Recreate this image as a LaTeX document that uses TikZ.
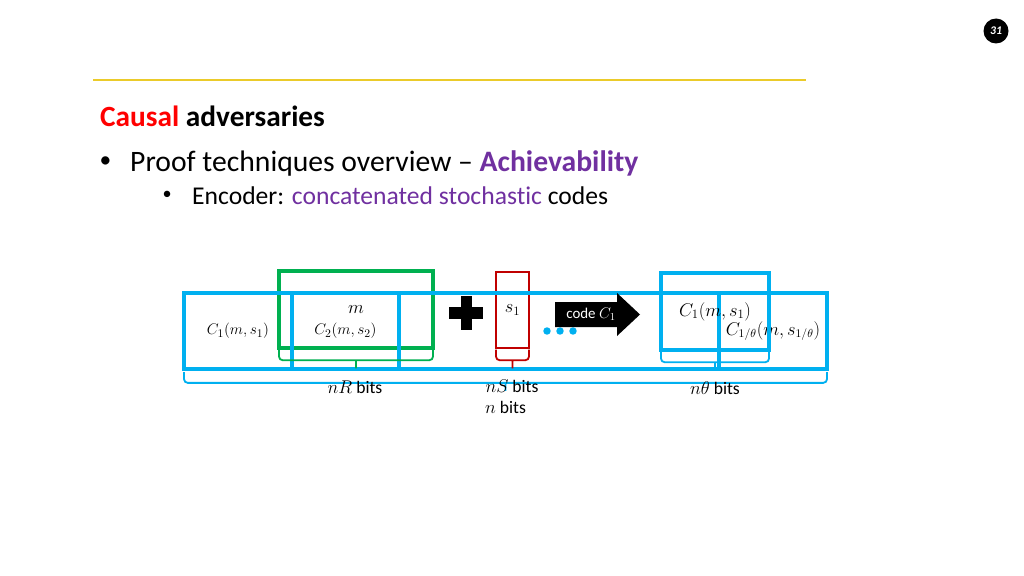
\documentclass[tikz,border=0pt]{standalone}
\usepackage{fontspec}
\setmainfont{Carlito}[Ligatures=NoCommon]
\usetikzlibrary{positioning,calc}

\definecolor{cblue}{HTML}{00B0F0}
\definecolor{cgreen}{HTML}{00B050}
\definecolor{cred}{HTML}{C00000}
\definecolor{cpurple}{HTML}{7030A0}
\definecolor{cgold}{HTML}{EBCB2A}

\newcommand{\pxscl}{0.9375}
\newcommand{\px}[1]{(#1*\pxscl)*1pt}
\newcommand{\fs}[1]{\fontsize{#1}{#1}\selectfont}
\newcommand{\bb}{\node[draw=cblue, line width=2.9pt, inner sep=0pt, outer sep=0pt]}
\newcommand{\gb}{\node[draw=cgreen, line width=2.9pt, inner sep=0pt, outer sep=0pt]}
\newcommand{\rb}{\node[draw=cred, line width=2.4pt, inner sep=0pt, outer sep=0pt]}
\newcommand{\lbl}{\node[inner sep=0pt, font=\fs{16.5}]}
\newcommand{\brk}[3]{\draw[#1, brk] let \p1=(#2), \p2=(#3) in
    (\p1) -- (\x1,\y1-10pt) -- (\x2,\y1-10pt) -- (\p2)
    ({(\x1+\x2)/2},\y1-10pt) -- ({(\x1+\x2)/2},\y1-17.5pt);}

\tikzset{
    sz/.style 2 args={minimum width=\px{#1}, minimum height=\px{#2}},
    brk/.style={line width=1.7pt, rounded corners=3.5pt}
}

\begin{document}
\begin{tikzpicture}[x=0.9375pt, y=-0.9375pt]
            \useasboundingbox[fill=white] (0,0) rectangle (1024,576);

            \node[circle, fill=black, minimum size=\px{25}, inner sep=0pt, text=white,
                font=\fs{11}\bfseries\itshape] (pnum) at (996,31) {31};
            \coordinate (ruleL) at (93,80);
            \coordinate (ruleR) at (806,80);
            \draw[cgold, line width=1.1pt] (ruleL) -- (ruleR);

            \node[anchor=base west, inner sep=0pt, font=\fs{27.5}\bfseries] (title) at (100,127)
                {\textcolor{red}{Causal} adversaries};
            \node[anchor=base west, inner sep=0pt, font=\fs{22}] (dot1) at (99.5,168) {•};
            \node[anchor=base west, inner sep=0pt, font=\fs{27.8}] (item1) at (130,171)
                {Proof techniques overview – \textcolor{cpurple}{\bfseries Achievability}};
            \node[anchor=base west, inner sep=0pt, font=\fs{17}] (dot2) at (162.5,199) {•};
            \node[anchor=base west, inner sep=0pt, font=\fs{24}] (item2) at (192,204)
                {Encoder: \textcolor{cpurple}{concatenated stochastic} codes};

            \gb[sz={154}{77}, font=\fs{17.5}] (gm) at (356,309.5) {$m$};
            \rb[sz={33}{76}, font=\fs{17.5}] (rs) at (512.5,310) {$s_1$};

            \bb[sz={643}{76}] (row) at (505.5,331) {};
            \bb[sz={108}{76}, font=\fs{15.5}] (c1) at (238,331) {$C_1(m,s_1)$};
            \bb[sz={107}{76}, font=\fs{15.5}] (c2) at (345.5,331) {$C_2(m,s_2)$};
            \bb[sz={108}{76}, font=\fs{16}] (clast) at (773,331) {$C_{1/\theta}(m,s_{1/\theta})$};
            \bb[sz={108}{77}, font=\fs{17.5}] (ctop) at (715,311.5) {$C_1(m,s_1)$};

            \fill (449,307) rectangle (483,319);
            \fill (460.5,296) rectangle (471.5,330);

            \fill[cblue] (547,331) circle[radius=3.5pt];
            \fill[cblue] (560,331) circle[radius=3.5pt];
            \fill[cblue] (573,331) circle[radius=3.5pt];

            \fill (555,302) -- (617,302) -- (617,293) -- (640,314.5)
                -- (617,336) -- (617,327) -- (555,327) -- cycle;
            \node[text=white, inner sep=0pt, font=\fs{14}] (code) at (591,314) {code $C_1$};

            \brk{cgreen}{[yshift=-1.5pt]gm.south west}{[yshift=-1.5pt]gm.south east}
            \brk{cred}{[yshift=-1.5pt]rs.south west}{[yshift=-1.5pt]rs.south east}
            \brk{cblue}{[yshift=-1.5pt]ctop.south west}{[yshift=-1.5pt]ctop.south east}
            \brk{cblue}{[yshift=-3pt]row.south west}{[yshift=-3pt]row.south east}

            \lbl (bitsR) at (355,387) {$nR$ bits};
            \lbl (bitsS) at (512,386) {$nS$ bits};
            \lbl (bitsn) at (505.5,407) {$n$ bits};
            \lbl (bitsT) at (715,388) {$n\theta$ bits};
        \end{tikzpicture}
\end{document}
